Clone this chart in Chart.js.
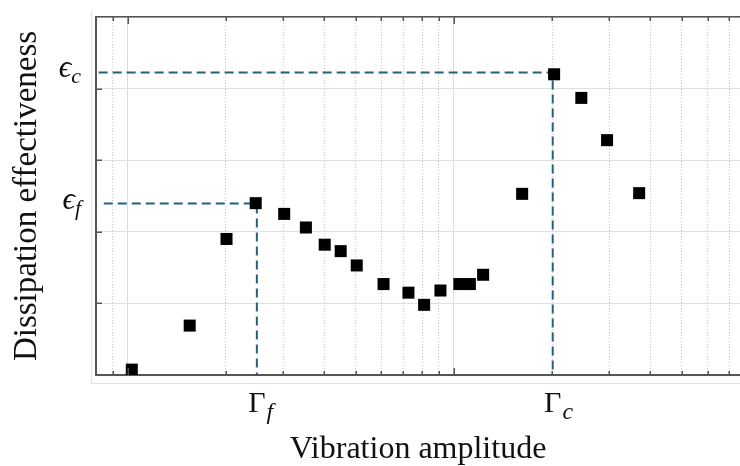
<!DOCTYPE html>
<html>
<head>
<meta charset="utf-8">
<script src="https://cdn.jsdelivr.net/npm/chart.js@4/dist/chart.umd.min.js"></script>
<style>
  html, body { margin: 0; padding: 0; background: #fff; }
  #wrap { width: 740px; height: 466px; }
</style>
</head>
<body>
<div id="wrap"><canvas id="chart"></canvas></div>
<script>
// measured points (x = vibration amplitude, log axis; y = dissipation effectiveness)
const ampValues = [1.03, 1.55, 2.01, 2.47, 3.02, 3.52, 4.02, 4.5, 5.04, 6.09, 7.26, 8.11, 9.1, 10.4, 11.2, 12.3, 16.2, 20.3, 24.6, 29.5, 37.0];
const effValues = [0.075, 0.69, 1.9, 2.4, 2.25, 2.06, 1.82, 1.73, 1.53, 1.27, 1.15, 0.98, 1.18, 1.27, 1.27, 1.4, 2.53, 4.2, 3.87, 3.28, 2.54];

// reference levels
const gammaF = 2.49;
const gammaC = 20.1;
const epsF = 2.395;
const epsC = 4.225;
const guideStartF = 0.845;
const guideStartC = 0.815;

// axis ranges and ticks
const xMin = 0.8;
const xMax = 75.4;
const yMin = 0;
const yMax = 5;
const xGridTicks = [0.9, 1, 2, 3, 4, 5, 6, 7, 8, 9, 10, 20, 30, 40, 50, 60, 70];
const xTickValues = [gammaF, gammaC];
const xTickMain = ['\u0393', '\u0393'];
const xTickSub = ['f', 'c'];
const yTickValues = [epsF, epsC];
const yTickMain = ['\u03F5', '\u03F5'];
const yTickSub = ['f', 'c'];

const guideColor = '#23617f';
const axisColor = '#555555';

function isDecade(v) {
  const l = Math.log10(v);
  return Math.abs(l - Math.round(l)) < 1e-9;
}

Chart.defaults.font.family = '"Liberation Serif", "Times New Roman", serif';
Chart.defaults.color = '#111';

// inward tick marks, math tick labels, faint outer frame
const mathAxes = {
  id: 'mathAxes',
  afterDraw(chart) {
    const {ctx, chartArea: a, scales: {x, y}} = chart;
    ctx.save();

    ctx.strokeStyle = '#e2e2e2';
    ctx.lineWidth = 1;
    ctx.beginPath();
    ctx.moveTo(a.left - 4.5, a.top - 7);
    ctx.lineTo(a.left - 4.5, a.bottom + 8.5);
    ctx.lineTo(a.right, a.bottom + 8.5);
    ctx.stroke();

    ctx.strokeStyle = axisColor;
    ctx.lineWidth = 1.5;
    ctx.beginPath();
    x.ticks.forEach(t => {
      const px = Math.round(x.getPixelForValue(t.value)) + 0.25;
      const len = isDecade(t.value) ? 7 : 4;
      ctx.moveTo(px, a.bottom);
      ctx.lineTo(px, a.bottom - len);
      ctx.moveTo(px, a.top);
      ctx.lineTo(px, a.top + len);
    });
    y.ticks.forEach(t => {
      if (t.value <= yMin || t.value >= yMax) return;
      const py = Math.round(y.getPixelForValue(t.value)) + 0.25;
      ctx.moveTo(a.left, py);
      ctx.lineTo(a.left + 6, py);
    });
    ctx.stroke();

    ctx.fillStyle = '#111';
    ctx.textBaseline = 'alphabetic';
    ctx.textAlign = 'left';
    // x labels: Gamma with italic subscript
    xTickValues.forEach((v, i) => {
      const px = x.getPixelForValue(v);
      ctx.font = '30px "Liberation Serif", serif';
      const w = ctx.measureText(xTickMain[i]).width;
      ctx.fillText(xTickMain[i], px - w / 2, a.bottom + 37);
      ctx.font = 'italic 24px "Liberation Serif", serif';
      ctx.fillText(xTickSub[i], px + w / 2 + 1, a.bottom + 44);
    });
    // y labels: epsilon with italic subscript
    yTickValues.forEach((v, i) => {
      const py = y.getPixelForValue(v);
      ctx.font = 'italic 22px "Liberation Serif", serif';
      const ws = ctx.measureText(yTickSub[i]).width;
      ctx.font = 'italic 31px "Liberation Serif", "DejaVu Serif", serif';
      const wm = ctx.measureText(yTickMain[i]).width;
      const right = a.left - 15;
      ctx.fillText(yTickMain[i], right - ws - wm, py + 5);
      ctx.font = 'italic 22px "Liberation Serif", serif';
      ctx.fillText(yTickSub[i], right - ws, py + 11);
    });
    ctx.restore();
  }
};

const pointData = ampValues.map((v, i) => ({x: v, y: effValues[i]}));

const guideStyle = {
  type: 'line',
  showLine: true,
  borderColor: guideColor,
  borderWidth: 2,
  borderDash: [9, 5],
  pointRadius: 0,
  fill: false,
  tension: 0,
  order: 2
};

new Chart(document.getElementById('chart'), {
  type: 'scatter',
  data: {
    datasets: [
      {
        label: 'measured',
        data: pointData,
        pointStyle: 'rect',
        pointRadius: 8.5,
        pointHoverRadius: 8.5,
        pointBackgroundColor: '#000',
        pointBorderWidth: 0,
        order: 1
      },
      Object.assign({
        label: 'eps_f',
        data: [{x: guideStartF, y: epsF}, {x: gammaF, y: epsF}, {x: gammaF, y: yMin}]
      }, guideStyle),
      Object.assign({
        label: 'eps_c',
        data: [{x: guideStartC, y: epsC}, {x: gammaC, y: epsC}, {x: gammaC, y: yMin}]
      }, guideStyle)
    ]
  },
  options: {
    responsive: true,
    maintainAspectRatio: false,
    animation: false,
    layout: { autoPadding: false, padding: { top: 17, right: 0, bottom: 0, left: 0 } },
    plugins: { legend: { display: false }, tooltip: { enabled: false } },
    scales: {
      x: {
        type: 'logarithmic',
        position: 'bottom',
        min: xMin,
        max: xMax,
        afterBuildTicks: axis => { axis.ticks = xGridTicks.map(v => ({value: v})); },
        ticks: { display: false },
        grid: {
          drawTicks: false,
          lineWidth: 1,
          color: c => (c.tick && !isDecade(c.tick.value)) ? '#c9c9c9' : '#dcdcdc'
        },
        border: {
          display: true,
          color: axisColor,
          width: 2,
          dash: c => (c.tick && !isDecade(c.tick.value)) ? [1, 2] : []
        },
        title: {
          display: true,
          text: 'Vibration amplitude',
          font: { size: 32, lineHeight: 1 },
          color: '#111',
          padding: { top: 59, bottom: 0 }
        }
      },
      x2: {
        type: 'logarithmic',
        position: 'top',
        min: xMin,
        max: xMax,
        ticks: { display: false },
        grid: { display: false, drawTicks: false },
        border: { display: true, color: axisColor, width: 1.5 }
      },
      y: {
        type: 'linear',
        min: yMin,
        max: yMax,
        ticks: { display: false, stepSize: 1 },
        grid: { drawTicks: false, color: '#e0e0e0', lineWidth: 1 },
        border: { display: true, color: axisColor, width: 2 },
        title: {
          display: true,
          text: 'Dissipation effectiveness',
          font: { size: 33, lineHeight: 1 },
          color: '#111',
          padding: { top: 11, bottom: 52 }
        }
      }
    }
  },
  plugins: [mathAxes]
});
</script>
</body>
</html>
